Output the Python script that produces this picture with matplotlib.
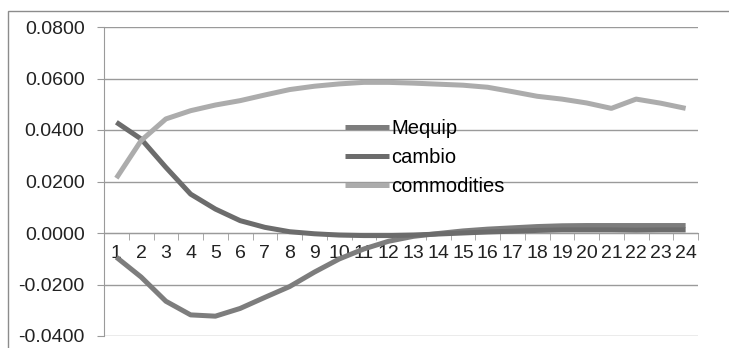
import matplotlib
matplotlib.use("Agg")
import matplotlib.pyplot as plt
from matplotlib.patches import Rectangle
import numpy as np

periods = [str(i) for i in range(1, 25)]
mequip = [-0.0094, -0.0171, -0.0265, -0.0318, -0.0323, -0.0293, -0.0250, -0.0208,
          -0.0152, -0.0101, -0.0062, -0.0032, -0.0013, -0.0002, 0.0008, 0.0015,
          0.0020, 0.0025, 0.0028, 0.0029, 0.0029, 0.0029, 0.0029, 0.0029]
cambio = [0.0430, 0.0365, 0.0255, 0.0151, 0.0093, 0.0048, 0.0022, 0.0005,
          -0.0003, -0.0008, -0.0010, -0.0010, -0.0008, -0.0004, 0.0000, 0.0004,
          0.0007, 0.0010, 0.0012, 0.0012, 0.0012, 0.0011, 0.0012, 0.0012]
commodities = [0.0213, 0.0359, 0.0443, 0.0475, 0.0497, 0.0514, 0.0536, 0.0557,
               0.0570, 0.0579, 0.0585, 0.0585, 0.0582, 0.0578, 0.0574, 0.0566,
               0.0549, 0.0531, 0.0520, 0.0505, 0.0484, 0.0520, 0.0504, 0.0484]
yticks = [-0.04, -0.02, 0.0, 0.02, 0.04, 0.06, 0.08]

plt.rcParams["font.family"] = ["Liberation Sans", "DejaVu Sans"]

fig = plt.figure(figsize=(7.29, 3.48), dpi=100)
ax = fig.add_axes([104/729, 1 - 336/348, 594/729, 309/348])

# outer chart frame (cropped at right/bottom like the source)
fig.patches.append(Rectangle((8/729, -0.1), 1.2, 1 - 11/348 + 0.1, transform=fig.transFigure,
                             fill=False, edgecolor="#8c8c8c", linewidth=1.0))

x = np.arange(1, 25)
ax.plot(x, mequip, color="#7d7d7d", lw=3.6, label="Mequip", solid_capstyle="butt", zorder=3)
ax.plot(x, cambio, color="#6c6c6c", lw=3.6, label="cambio", solid_capstyle="butt", zorder=3)
ax.plot(x, commodities, color="#acacac", lw=3.6, label="commodities", solid_capstyle="butt", zorder=3)

ax.set_xlim(0.5, 24.5)
ax.set_ylim(-0.04, 0.08)
ax.set_yticks(yticks)
ax.set_yticklabels([f"{v:.4f}" for v in yticks])
ax.grid(True, axis="y", color="#9a9a9a", lw=1.0)
ax.set_axisbelow(True)

for s in ["top", "right"]:
    ax.spines[s].set_visible(False)
ax.spines["left"].set_color("#9a9a9a")
ax.spines["bottom"].set_position(("data", 0))
ax.spines["bottom"].set_color("#9a9a9a")

ax.set_xticks(x)
ax.set_xticklabels(periods)
ax.set_xticks(np.arange(0.5, 25, 1), minor=True)
ax.tick_params(axis="x", which="major", length=0, pad=9, labelsize=14, colors="#222222")
ax.tick_params(axis="x", which="minor", length=5, color="#9a9a9a", direction="out")
ax.tick_params(axis="y", length=5, color="#9a9a9a", pad=9, labelsize=14, labelcolor="#222222")

ax.legend(loc="upper left", bbox_to_anchor=(345/729, 1 - 119/348), bbox_transform=fig.transFigure,
          frameon=False, fontsize=14.5, handlelength=2.2, handletextpad=0.1,
          labelspacing=0.5, borderpad=0, borderaxespad=0)

plt.savefig("out.png", dpi=100)
